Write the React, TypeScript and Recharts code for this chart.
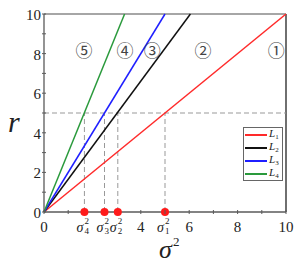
import React from 'react';
import { ComposedChart, Line, XAxis, YAxis, ReferenceLine, Scatter, Legend, Label } from 'recharts';

// straight lines through origin, r = k * sigma^2
const L1 = [{ x: 0, y: 0 }, { x: 10, y: 10 }];
const L2 = [{ x: 0, y: 0 }, { x: 6.05, y: 10 }];
const L3 = [{ x: 0, y: 0 }, { x: 5, y: 10 }];
const L4 = [{ x: 0, y: 0 }, { x: 3.33, y: 10 }];

const lineNames = ['1', '2', '3', '4'];
const lineColors = ['#ff2a2a', '#111111', '#1f1fff', '#2a9a3c'];

// intersection of each line with r = 5
const sigmaPoints = [
  { x: 1.67, y: 0, idx: '4' },
  { x: 2.5, y: 0, idx: '3' },
  { x: 3.05, y: 0, idx: '2' },
  { x: 5, y: 0, idx: '1' },
];
const rLevel = 5;

const regions = [
  { x: 9.6, y: 8.2, text: '①' },
  { x: 6.57, y: 8.2, text: '②' },
  { x: 4.47, y: 8.2, text: '③' },
  { x: 3.35, y: 8.2, text: '④' },
  { x: 1.65, y: 8.2, text: '⑤' },
];

const xTicks = [0, 1, 1.67, 2.5, 3.05, 4, 5, 6, 7, 8, 9, 10];
const xLabels = [0, 4, 6, 8, 10];
const yTicks = [0, 1, 2, 3, 4, 5, 6, 7, 8, 9, 10];

const serif = '"Liberation Serif", "DejaVu Serif", serif';
const axisGray = '#5a5a5a';

const XTick = (props: any) => {
  const { x, y, payload } = props;
  const v = payload.value;
  const sig = sigmaPoints.find(s => s.x === v);
  const isInt = Number.isInteger(v);
  return (
    <g>
      {isInt && <line x1={x} x2={x} y1={y - 2} y2={y + 2} stroke={axisGray} strokeWidth={1} />}
      {sig ? (
        <g fontFamily={serif} fill="#222">
          <text x={x - 8} y={y + 20} fontSize={14} fontStyle="italic">σ</text>
          <text x={x} y={y + 12} fontSize={9}>2</text>
          <text x={x} y={y + 22} fontSize={9}>{sig.idx}</text>
        </g>
      ) : xLabels.includes(v) ? (
        <text x={x} y={y + 20} textAnchor="middle" fontSize={15} fontFamily={serif} fill="#222">{v}</text>
      ) : null}
    </g>
  );
};

const YTick = (props: any) => {
  const { x, y, payload } = props;
  const v = payload.value;
  return (
    <g>
      <line x1={x - 2} x2={x + 2} y1={y} y2={y} stroke={axisGray} strokeWidth={1} />
      {v % 2 === 0 && (
        <text x={x - 3} y={y + 6} textAnchor="end" fontSize={15} fontFamily={serif} fill="#222">{v}</text>
      )}
    </g>
  );
};

const LegendBox = () => (
  <div style={{ border: '1px solid #666', background: '#fff', padding: '0 3px 0 1px', width: 40, boxSizing: 'border-box' }}>
    {lineNames.map((n, i) => (
      <div key={n} style={{ display: 'flex', alignItems: 'center', height: 13 }}>
        <div style={{ width: 22, height: 2, background: lineColors[i], marginRight: 2 }} />
        <span style={{ fontFamily: serif, fontStyle: 'italic', fontSize: 11, lineHeight: '11px', color: '#222' }}>
          L<span style={{ fontSize: 7, fontStyle: 'normal', position: 'relative', top: 2 }}>{n}</span>
        </span>
      </div>
    ))}
  </div>
);

export default function App() {
  return (
    <div style={{ position: 'absolute', left: 0, top: 0, background: '#fff' }}>
      <ComposedChart width={307} height={263} margin={{ top: 14, right: 21, bottom: 0, left: 0 }}>
        <XAxis
          dataKey="x"
          type="number"
          domain={[0, 10]}
          ticks={xTicks}
          interval={0}
          tickLine={false}
          tickSize={0}
          tickMargin={0}
          height={51}
          stroke={axisGray}
          strokeWidth={1.3}
          tick={<XTick />}
        >
          <Label
            content={({ viewBox }: any) => (
              <g fontFamily={serif} fill="#222">
                <text x={viewBox.x + 115} y={viewBox.y + 46} fontSize={26} fontStyle="italic">σ</text>
                <text x={viewBox.x + 129} y={viewBox.y + 34} fontSize={13}>2</text>
              </g>
            )}
          />
        </XAxis>
        <YAxis
          type="number"
          domain={[0, 10]}
          ticks={yTicks}
          interval={0}
          tickLine={false}
          tickSize={0}
          tickMargin={0}
          width={44}
          stroke={axisGray}
          strokeWidth={1.3}
          tick={<YTick />}
        >
          <Label
            content={({ viewBox }: any) => (
              <text x={8} y={viewBox.y + viewBox.height / 2 + 19} fontSize={30} fontStyle="italic" fontFamily={serif} fill="#222">r</text>
            )}
          />
        </YAxis>
        <ReferenceLine y={10} stroke="#888" strokeWidth={1.3} />
        <ReferenceLine x={10} stroke="#222" strokeWidth={1.3} />
        <ReferenceLine y={rLevel} stroke="#999" strokeDasharray="5 3" />
        {sigmaPoints.map(s => (
          <ReferenceLine
            key={s.idx}
            segment={[{ x: s.x, y: 0 }, { x: s.x, y: rLevel }]}
            stroke="#999"
            strokeDasharray="5 3"
          />
        ))}
        <Line data={L1} dataKey="y" stroke={lineColors[0]} strokeWidth={1.5} dot={false} isAnimationActive={false} />
        <Line data={L2} dataKey="y" stroke={lineColors[1]} strokeWidth={1.5} dot={false} isAnimationActive={false} />
        <Line data={L3} dataKey="y" stroke={lineColors[2]} strokeWidth={1.5} dot={false} isAnimationActive={false} />
        <Line data={L4} dataKey="y" stroke={lineColors[3]} strokeWidth={1.5} dot={false} isAnimationActive={false} />
        <Scatter
          data={sigmaPoints}
          dataKey="y"
          isAnimationActive={false}
          shape={(p: any) => <circle cx={p.cx} cy={p.cy} r={4} fill="#ff1a1a" />}
        />
        <Scatter
          data={regions}
          dataKey="y"
          isAnimationActive={false}
          shape={(p: any) => (
            <text x={p.cx} y={p.cy + 7} textAnchor="middle" fontSize={17} fontFamily='"Noto Sans CJK JP", "DejaVu Sans", sans-serif' fill="#444">
              {p.payload.text}
            </text>
          )}
        />
        <Legend
          layout="vertical"
          align="center"
          verticalAlign="middle"
          wrapperStyle={{ left: 243, top: 127, width: 'auto' }}
          content={() => <LegendBox />}
        />
      </ComposedChart>
    </div>
  );
}
